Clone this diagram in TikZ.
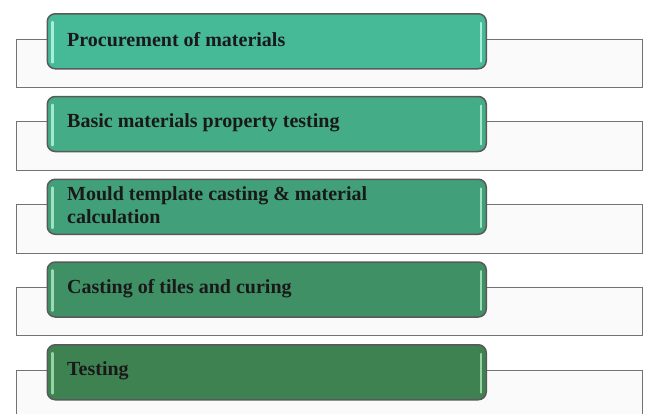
\documentclass[tikz,border=0pt]{standalone}
\usepackage{fontspec}
\setmainfont{Liberation Serif}
\begin{document}
\begin{tikzpicture}[x=1pt,y=-1pt,
  backbox/.style={draw=black!55,line width=1.1pt,fill=black!2,minimum width=626pt,minimum height=48.5pt,inner sep=0pt,anchor=north west},
  stepbox/.style={draw=black!65,line width=1.5pt,rounded corners=8pt,minimum width=439pt,minimum height=55pt,inner sep=0pt,anchor=north west},
  steptext/.style={anchor=west,align=left,inner sep=0pt,font=\fontsize{20}{23}\selectfont\bfseries,text=black!90},
  glint/.style={line width=2.2pt,line cap=round}]
\useasboundingbox (0,0) rectangle (645,413);
\definecolor{g1}{HTML}{46BA96}
\definecolor{g2}{HTML}{44AD88}
\definecolor{g3}{HTML}{41A07A}
\definecolor{g4}{HTML}{409065}
\definecolor{g5}{HTML}{3F8252}
\definecolor{h1}{HTML}{A6EFD6}
\definecolor{h2}{HTML}{A2E8CC}
\definecolor{h3}{HTML}{9EE2C2}
\definecolor{h4}{HTML}{9ADAB2}
\definecolor{h5}{HTML}{96D2A4}
\foreach \i/\t in {1/{Procurement of materials},2/{Basic materials property testing},3/{Mould template casting \& material\\calculation},4/{Casting of tiles and curing},5/{Testing}}{
  \pgfmathsetmacro{\ytop}{13+(\i-1)*82.75}
  \node[backbox] (back\i) at (16,\ytop+25.5) {};
  \node[stepbox,fill=g\i] (box\i) at (46.5,\ytop) {};
  \draw[glint,draw=h\i] ([xshift=6pt,yshift=-9pt]box\i.north west) -- ([xshift=6pt,yshift=7pt]box\i.south west);
  \draw[glint,draw=h\i] ([xshift=-6pt,yshift=-10pt]box\i.north east) -- ([xshift=-6pt,yshift=8pt]box\i.south east);
  \node[steptext] (lab\i) at ([xshift=20.5pt,yshift=1.2pt]box\i.west) {\t};
}
\end{tikzpicture}
\end{document}
